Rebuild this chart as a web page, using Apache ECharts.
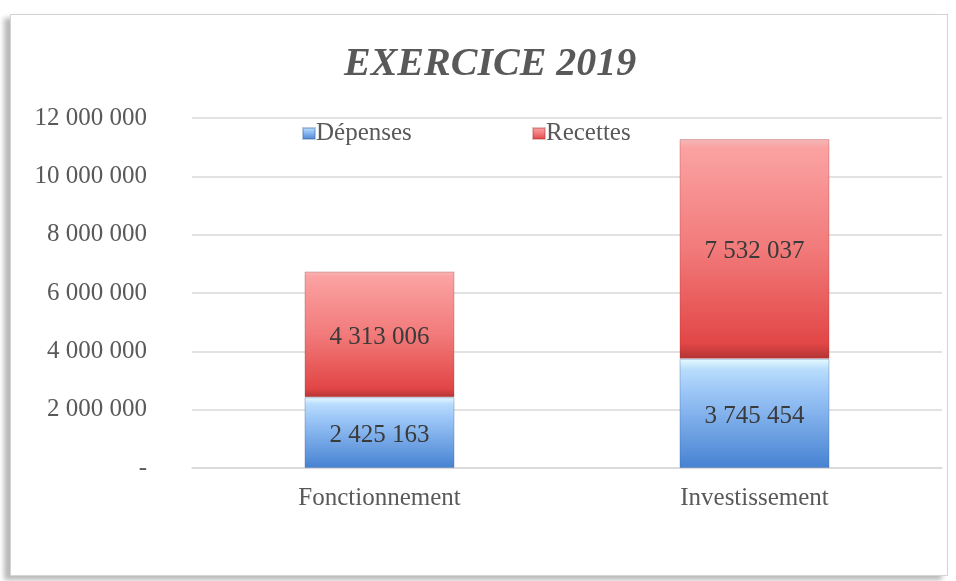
<!DOCTYPE html>
<html>
<head>
<meta charset="utf-8">
<title>EXERCICE 2019</title>
<script src="https://cdn.jsdelivr.net/npm/echarts@6/dist/echarts.min.js"></script>
<style>
  html, body { margin: 0; padding: 0; background: #fff; }
  .frame {
    position: absolute; left: 10px; top: 14px; width: 936px; height: 560px;
    border: 1px solid #d4d4d4;
    box-shadow: -6px 4px 5px rgba(0, 0, 0, 0.28);
    background: #fff;
  }
  #mychart { position: absolute; left: 0; top: 0; width: 956px; height: 581px; }
</style>
</head>
<body>
<div class="frame"></div>
<div id="mychart"></div>
<script>
// données du graphique
const categories = ['Fonctionnement', 'Investissement'];
const depenses = [2425163, 3745454];
const recettes = [4313006, 7532037];
const yTicks = [0, 2000000, 4000000, 6000000, 8000000, 10000000, 12000000];

const FONT = '"Liberation Serif", "DejaVu Serif", serif';

// 1234567 -> "1 234 567", 0 -> "-"
function fmt (v) {
  if (v === 0) return '-';
  return String(Math.round(v)).replace(/\B(?=(\d{3})+(?!\d))/g, ' ');
}

const redGrad = new echarts.graphic.LinearGradient(0, 0, 0, 1, [
  { offset: 0, color: '#f4b8b8' },
  { offset: 0.04, color: '#fba2a2' },
  { offset: 0.5, color: '#f27a7a' },
  { offset: 0.93, color: '#e24646' },
  { offset: 1, color: '#b33434' }
]);
const blueGrad = new echarts.graphic.LinearGradient(0, 0, 0, 1, [
  { offset: 0, color: '#e6fbff' },
  { offset: 0.1, color: '#b8dcfc' },
  { offset: 0.3, color: '#9cc6f7' },
  { offset: 1, color: '#4682d2' }
]);

const labelStyle = {
  show: true,
  position: 'inside',
  fontFamily: FONT,
  fontSize: 25,
  color: '#3a3a3a',
  offset: [0, 3],
  formatter: p => fmt(p.value)
};

const legendText = { fontFamily: FONT, fontSize: 25, color: '#595959', padding: [0, 0, 0, -4] };

const option = {
  animation: false,
  backgroundColor: 'transparent',
  title: {
    text: 'EXERCICE 2019',
    left: 339,
    top: 40,
    textStyle: {
      fontFamily: FONT,
      fontSize: 40,
      fontWeight: 'bold',
      fontStyle: 'italic',
      color: '#595959'
    }
  },
  legend: [
    {
      data: ['Dépenses'],
      icon: 'rect',
      left: 297, top: 116,
      itemWidth: 12, itemHeight: 11,
      textStyle: legendText
    },
    {
      data: ['Recettes'],
      icon: 'rect',
      left: 527, top: 116,
      itemWidth: 12, itemHeight: 11,
      textStyle: legendText
    }
  ],
  grid: { left: 192, right: 14, top: 118, bottom: 113, containLabel: false },
  xAxis: {
    type: 'category',
    data: categories,
    axisLine: { lineStyle: { color: '#d9d9d9', width: 1.5 } },
    axisTick: { show: false },
    axisLabel: { fontFamily: FONT, fontSize: 25, color: '#595959', margin: 18 }
  },
  yAxis: {
    type: 'value',
    min: yTicks[0],
    max: yTicks[yTicks.length - 1],
    interval: 2000000,
    axisLine: { show: false },
    axisTick: { show: false },
    splitLine: { lineStyle: { color: '#d9d9d9', width: 1.5 } },
    axisLabel: { fontFamily: FONT, fontSize: 25, color: '#595959', margin: 45, formatter: fmt }
  },
  series: [
    {
      name: 'Dépenses',
      type: 'bar',
      stack: 'total',
      barWidth: '40%',
      data: depenses,
      itemStyle: { color: blueGrad, borderColor: 'rgba(60,100,160,0.35)', borderWidth: 1 },
      label: labelStyle
    },
    {
      name: 'Recettes',
      type: 'bar',
      stack: 'total',
      barWidth: '40%',
      data: recettes,
      itemStyle: { color: redGrad, borderColor: 'rgba(160,50,50,0.3)', borderWidth: 1 },
      label: labelStyle
    }
  ]
};

const myChart = echarts.init(document.getElementById('mychart'), null, { renderer: 'canvas' });
myChart.setOption(option);
window.addEventListener('resize', () => {
  myChart.resize();
});
</script>
</body>
</html>
